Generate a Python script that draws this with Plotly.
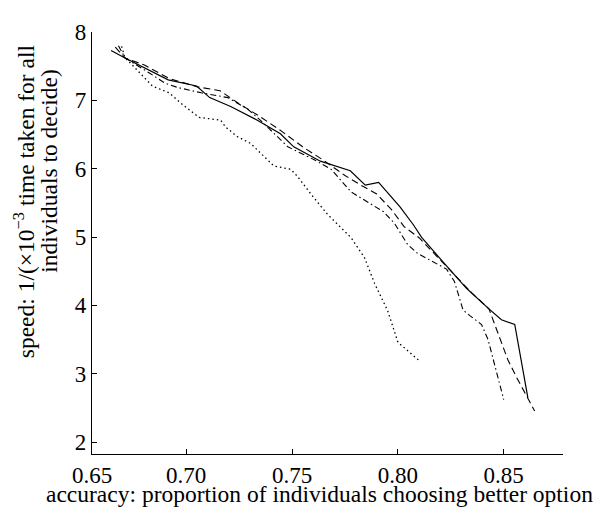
import plotly.graph_objects as go

# accuracy (x) and speed (y) for four series
solid_x = [0.6645, 0.6711, 0.6915, 0.7049, 0.7111, 0.721, 0.7336, 0.7445, 0.7508, 0.7634,
           0.7775, 0.7846, 0.7909, 0.801, 0.8073, 0.8113, 0.8215, 0.8324, 0.8426, 0.8489,
           0.8552, 0.8614]
solid_y = [7.73, 7.62, 7.30, 7.21, 7.04, 6.91, 6.71, 6.51, 6.32, 6.11,
           5.97, 5.76, 5.80, 5.44, 5.18, 4.99, 4.63, 4.25, 3.96, 3.79,
           3.72, 2.65]

dashed_x = [0.6665, 0.6711, 0.680, 0.692, 0.705, 0.716, 0.725, 0.735, 0.745, 0.755,
            0.765, 0.775, 0.783, 0.790, 0.797, 0.803, 0.810, 0.822, 0.835, 0.843,
            0.848, 0.852, 0.856, 0.8646]
dashed_y = [7.78, 7.62, 7.52, 7.32, 7.20, 7.14, 6.95, 6.76, 6.55, 6.32,
            6.12, 5.90, 5.75, 5.63, 5.40, 5.15, 4.99, 4.60, 4.18, 3.95,
            3.55, 3.20, 2.95, 2.455]

dashdot_x = [0.668, 0.6711, 0.6826, 0.690, 0.6958, 0.7071, 0.7197, 0.7291, 0.7354, 0.7417,
             0.748, 0.7605, 0.7685, 0.7779, 0.7932, 0.7984, 0.8046, 0.8093, 0.823, 0.8267,
             0.8308, 0.834, 0.8395, 0.8426, 0.8466, 0.850]
dashdot_y = [7.80, 7.62, 7.40, 7.25, 7.19, 7.11, 7.04, 6.87, 6.70, 6.51,
             6.32, 6.13, 5.99, 5.66, 5.37, 5.20, 4.89, 4.76, 4.53, 4.35,
             3.93, 3.85, 3.72, 3.50, 3.03, 2.62]

dotted_x = [0.6695, 0.6711, 0.6729, 0.6793, 0.684, 0.6919, 0.6982, 0.7061, 0.7163, 0.7186,
            0.7241, 0.7304, 0.7367, 0.7414, 0.7494, 0.7525, 0.7589, 0.7668, 0.7779, 0.7842,
            0.789, 0.7952, 0.800, 0.8105]
dotted_y = [7.79, 7.62, 7.57, 7.37, 7.21, 7.11, 6.94, 6.75, 6.71, 6.61,
            6.47, 6.37, 6.18, 6.04, 5.99, 5.89, 5.63, 5.33, 4.99, 4.70,
            4.32, 3.92, 3.46, 3.18]

x_tickvals = [0.6555, 0.70, 0.75, 0.80, 0.85]
x_ticktext = ["0.65", "0.70", "0.75", "0.80", "0.85"]
y_tickvals = [2, 3, 4, 5, 6, 7, 8]

FONT = "Liberation Serif"

fig = go.Figure()
series = [
    (solid_x, solid_y, "solid", 1.2),
    (dashed_x, dashed_y, "7px,4px", 1.1),
    (dashdot_x, dashdot_y, "6px,3px,1.5px,3px", 1.1),
    (dotted_x, dotted_y, "1.5px,3px", 1.3),
]
for xs, ys, dash, w in series:
    fig.add_trace(go.Scatter(x=xs, y=ys, mode="lines",
                             line=dict(color="black", width=w, dash=dash),
                             showlegend=False, hoverinfo="skip"))

tick_font = dict(family=FONT, size=23, color="black")
title_font = dict(family=FONT, size=23.5, color="black")
# the page body adds an 8px margin, so the figure is 600x503 to fill the 608x511 window
fig.update_layout(
    width=600, height=503,
    margin=dict(l=84, r=45, t=15, b=57),
    paper_bgcolor="white", plot_bgcolor="white",
    font=tick_font,
    xaxis=dict(range=[0.6555, 0.878], tickvals=x_tickvals, ticktext=x_ticktext,
               showline=True, linecolor="black", linewidth=1.2,
               ticks="inside", ticklen=5, tickcolor="black", showgrid=False,
               zeroline=False, tickfont=tick_font),
    yaxis=dict(range=[1.825, 8.0], tickvals=y_tickvals,
               showline=True, linecolor="black", linewidth=1.2,
               ticks="inside", ticklen=5, tickcolor="black", showgrid=False,
               zeroline=False, tickfont=tick_font),
    annotations=[
        dict(text="accuracy: proportion of individuals choosing better option",
             xref="paper", yref="paper", x=0.483, y=-0.130,
             xanchor="center", yanchor="bottom", showarrow=False, font=title_font),
        dict(text="speed: 1/(×10<sup>−3</sup> time taken for all",
             xref="paper", yref="paper", x=-0.1455, y=0.600,
             xanchor="center", yanchor="middle", showarrow=False, textangle=-90,
             font=title_font),
        dict(text="individuals to decide)",
             xref="paper", yref="paper", x=-0.090, y=0.670,
             xanchor="center", yanchor="middle", showarrow=False, textangle=-90,
             font=title_font),
    ],
)

fig.write_html("out.html")
